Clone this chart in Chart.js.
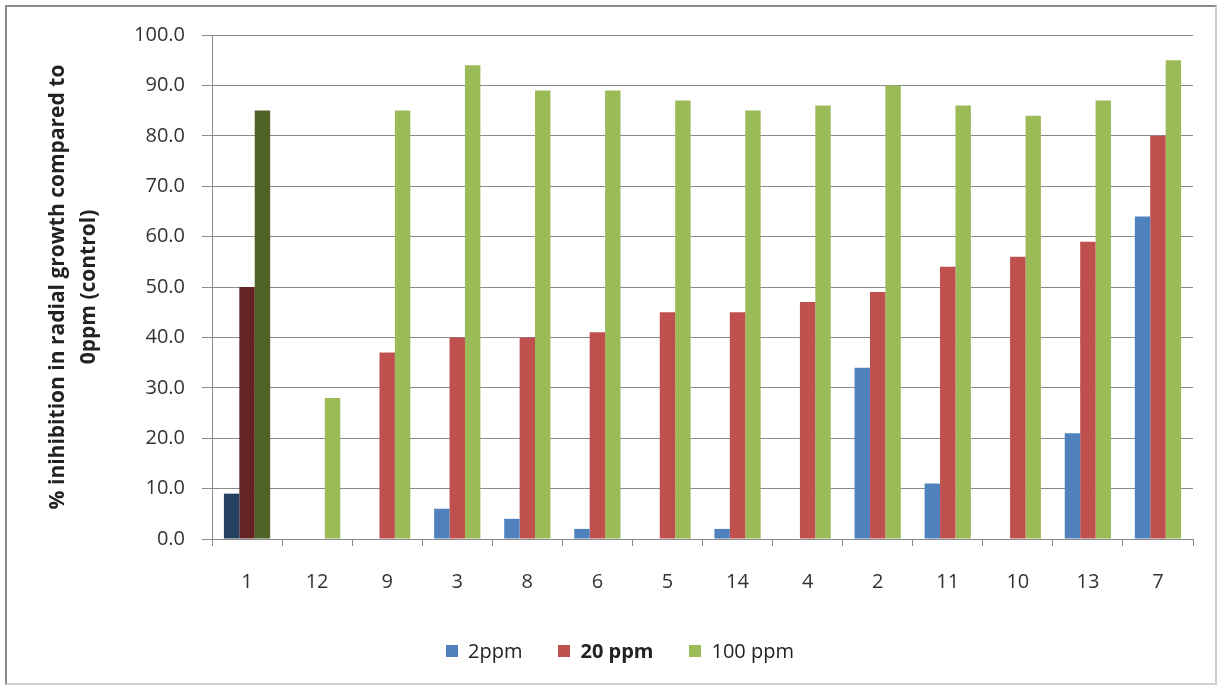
<!DOCTYPE html>
<html>
<head>
<meta charset="utf-8">
<script src="https://cdn.jsdelivr.net/npm/chart.js@4/dist/chart.umd.min.js"></script>
<style>
  html, body { margin: 0; padding: 0; background: #fff; }
  #wrap { position: relative; width: 1221px; height: 688px; overflow: hidden; }
  #frame { position: absolute; left: 5px; top: 5px; width: 1212px; height: 680px;
           border: 2px solid #8c8c8c; border-right-color: #d0d0d0; border-bottom-color: #d0d0d0; box-sizing: border-box; }
  canvas { position: absolute; left: 0; top: 0; }
  #legend { position: absolute; left: 0; width: 1240px; top: 637px; display: flex; justify-content: center;
            font-family: "Open Sans", Lato, sans-serif; font-size: 20px; color: #222; }
  .item { display: flex; align-items: center; margin: 0 18px; }
  .sw { width: 12px; height: 12px; margin-right: 10px; }
</style>
</head>
<body>
<div id="wrap">
  <div id="frame"></div>
  <canvas id="c" width="1221" height="688"></canvas>
  <div id="legend"></div>
</div>
<script>
// Isolates in plotted order and % inhibition at each concentration
const categories = ['1', '12', '9', '3', '8', '6', '5', '14', '4', '2', '11', '10', '13', '7'];
const ppm2   = [9, 0, 0, 6, 4, 2, 0, 2, 0, 34, 11, 0, 21, 64];
const ppm20  = [50, 0, 37, 40, 40, 41, 45, 45, 47, 49, 54, 56, 59, 80];
const ppm100 = [85, 28, 85, 94, 89, 89, 87, 85, 86, 90, 86, 84, 87, 95];
const seriesNames = ['2ppm', '20 ppm', '100 ppm'];
const yTicks = [0, 10, 20, 30, 40, 50, 60, 70, 80, 90, 100];

const baseColors = ['#4F81BD', '#C0504D', '#9BBB59'];
const firstColors = ['#254061', '#632523', '#4F6228'];

function colorsFor(i) {
  return categories.map((c, k) => k === 0 ? firstColors[i] : baseColors[i]);
}

const fontFamily = '"Open Sans", Lato, sans-serif';

new Chart(document.getElementById('c'), {
  type: 'bar',
  data: {
    labels: categories,
    datasets: [
      { label: seriesNames[0], data: ppm2,   backgroundColor: colorsFor(0) },
      { label: seriesNames[1], data: ppm20,  backgroundColor: colorsFor(1) },
      { label: seriesNames[2], data: ppm100, backgroundColor: colorsFor(2) }
    ]
  },
  options: {
    responsive: false,
    animation: false,
    layout: { padding: { left: 42, right: 28, top: 35, bottom: 70 } },
    datasets: { bar: { categoryPercentage: 0.66, barPercentage: 1.0 } },
    plugins: { legend: { display: false }, tooltip: { enabled: false } },
    scales: {
      x: {
        grid: { drawOnChartArea: false, drawTicks: true, tickLength: 7, color: '#8a8a8a', offset: true },
        border: { color: '#8a8a8a' },
        ticks: { color: '#333', padding: 24, font: { family: fontFamily, size: 20 } }
      },
      y: {
        min: 0, max: 100,
        afterBuildTicks: (s) => { s.ticks = yTicks.map(v => ({ value: v })); },
        afterFit: (s) => { s.width = 170; },
        grid: { color: '#8a8a8a', tickLength: 10 },
        border: { color: '#8a8a8a' },
        ticks: { color: '#333', padding: 17, font: { family: fontFamily, size: 20 },
                 callback: (v) => Number(v).toFixed(1) },
        title: {
          display: true,
          text: ['% inihibition in radial growth compared to', '0ppm (control)'],
          color: '#222',
          font: { family: fontFamily, size: 21, weight: 'bold', lineHeight: 1.5 },
          padding: { top: 0, bottom: 0 }
        }
      }
    }
  }
});

// Legend beneath the plot
const legend = document.getElementById('legend');
seriesNames.forEach((name, i) => {
  const it = document.createElement('div');
  it.className = 'item';
  const sw = document.createElement('span');
  sw.className = 'sw';
  sw.style.background = baseColors[i];
  const tx = document.createElement('span');
  tx.textContent = name;
  if (i === 1) tx.style.fontWeight = 'bold';
  it.appendChild(sw);
  it.appendChild(tx);
  legend.appendChild(it);
});
</script>
</body>
</html>
